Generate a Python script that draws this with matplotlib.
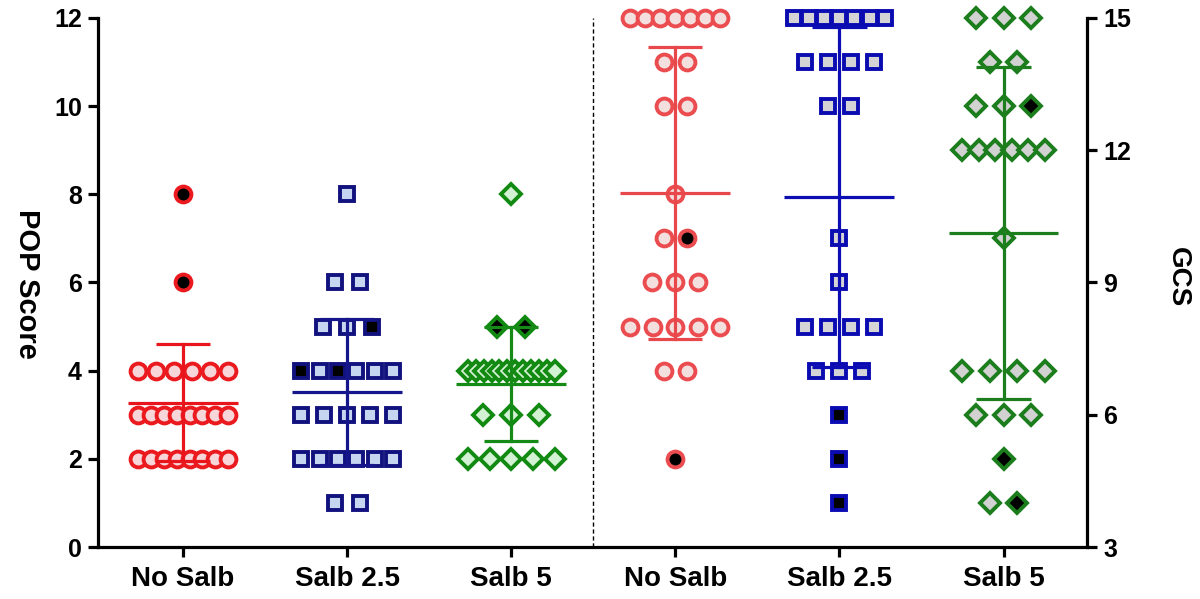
import numpy as np
import matplotlib
matplotlib.use("Agg")
import matplotlib.pyplot as plt

plt.rcParams['font.family'] = ['Liberation Sans', 'DejaVu Sans']
plt.rcParams['font.weight'] = 'bold'

# ---- data -------------------------------------------------------------
groups = ["No Salb", "Salb 2.5", "Salb 5"]

# POP score (left axis); 1 in the *_dark lists marks a black-filled point
pop_no_salb = [8, 6, 4, 4, 4, 4, 4, 4, 3, 3, 3, 3, 3, 3, 3, 3,
               2, 2, 2, 2, 2, 2, 2, 2]
pop_no_salb_dark = [1, 1] + [0] * 22
pop_salb25 = [8, 6, 6, 5, 5, 5, 4, 4, 4, 4, 4, 4, 3, 3, 3, 3, 3,
              2, 2, 2, 2, 2, 2, 1, 1]
pop_salb25_dark = [0, 0, 0, 0, 0, 1, 1, 0, 1, 0, 0, 0] + [0] * 13
pop_salb5 = [8, 5, 5] + [4] * 12 + [3, 3, 3, 2, 2, 2, 2, 2]
pop_salb5_dark = [0, 1, 1] + [0] * 20

pop_mean = [3.27, 3.52, 3.70]
pop_sd = [1.33, 1.65, 1.29]

# GCS (right axis)
gcs_no_salb = [15] * 7 + [14, 14, 13, 13, 11, 10, 10, 9, 9, 9,
                          8, 8, 8, 8, 8, 7, 7, 5]
gcs_no_salb_dark = [0] * 13 + [1] + [0] * 10 + [1]
gcs_salb25 = [15] * 7 + [14] * 4 + [13, 13, 10, 9, 8, 8, 8, 8,
                                    7, 7, 7, 6, 5, 4]
gcs_salb25_dark = [0] * 22 + [1, 1, 1]
gcs_salb5 = [15, 15, 15, 14, 14, 13, 13, 13] + [12] * 6 + \
            [10, 7, 7, 7, 7, 6, 6, 6, 5, 4, 4]
gcs_salb5_dark = [0, 0, 0, 0, 0, 0, 0, 1] + [0] * 6 + \
                 [0, 0, 0, 0, 0, 0, 0, 0, 1, 0, 1]

gcs_mean = [11.03, 10.94, 10.12]
gcs_sd = [3.32, 3.86, 3.76]

# ---- styles -----------------------------------------------------------
left_styles = [
    dict(marker='o', ms=11.4, edge='#ea1a1f', face='#f7d6d9', line='#e8161c', step=0.14, span=0.55),
    dict(marker='s', ms=10.2, edge='#12127f', face='#c6d6f0', line='#16168c', step=0.15, span=0.56),
    dict(marker='D', ms=9.8, edge='#128a12', face='#d3f2d3', line='#168a16', step=0.17, span=0.53),
]
right_styles = [
    dict(marker='o', ms=11.4, edge='#eb4c4f', face='#f4dfdf', line='#e8474b', step=0.14, span=0.55),
    dict(marker='s', ms=10.2, edge='#0b0bb2', face='#d4d4d6', line='#0d0db4', step=0.14, span=0.55),
    dict(marker='D', ms=9.8, edge='#1b7d1b', face='#d2d2d2', line='#1c7e1c', step=0.17, span=0.50),
]


def swarm(ax, xc, values, dark, st):
    values = np.asarray(values)
    dark = np.asarray(dark)
    for v in np.unique(values):
        idx = np.where(values == v)[0]
        n = len(idx)
        step = st['step'] if n < 2 else min(st['step'], st['span'] / (n - 1))
        offs = (np.arange(n) - (n - 1) / 2) * step
        for o, i in zip(offs, idx):
            ax.plot(xc + o, v, linestyle='none', marker=st['marker'],
                    ms=st['ms'], mew=2.8, mec=st['edge'],
                    mfc='black' if dark[i] else st['face'], zorder=3)


def summary(ax, xc, m, s, st):
    ax.plot([xc - 0.335, xc + 0.335], [m, m], color=st['line'], lw=2.3,
            zorder=4, solid_capstyle='butt')
    ax.plot([xc, xc], [m - s, m + s], color=st['line'], lw=2.3, zorder=4)
    for y in (m - s, m + s):
        ax.plot([xc - 0.165, xc + 0.165], [y, y], color=st['line'], lw=2.3,
                zorder=4, solid_capstyle='butt')


fig = plt.figure(figsize=(12, 5.99), dpi=100)
ax = fig.add_axes([0.0815, 0.0868, 0.8245, 0.8832])
ax2 = ax.twinx()

pop_sets = [(pop_no_salb, pop_no_salb_dark), (pop_salb25, pop_salb25_dark),
            (pop_salb5, pop_salb5_dark)]
gcs_sets = [(gcs_no_salb, gcs_no_salb_dark), (gcs_salb25, gcs_salb25_dark),
            (gcs_salb5, gcs_salb5_dark)]

for k, (vals, dk) in enumerate(pop_sets):
    swarm(ax, k, vals, dk, left_styles[k])
    summary(ax, k, pop_mean[k], pop_sd[k], left_styles[k])

for k, (vals, dk) in enumerate(gcs_sets):
    swarm(ax2, k + 3, vals, dk, right_styles[k])
    summary(ax2, k + 3, gcs_mean[k], gcs_sd[k], right_styles[k])

ax.axvline(2.5, color='black', lw=1.0, ls=(0, (3, 2)), zorder=1)

ax.set_xlim(-0.52, 5.51)
ax.set_ylim(0, 12)
ax2.set_ylim(3, 15)
ax.set_yticks(np.arange(0, 13, 2))
ax2.set_yticks(np.arange(3, 16, 3))
ax.set_xticks(range(6))
ax.set_xticklabels(groups + groups)

for a in (ax, ax2):
    for sp in a.spines.values():
        sp.set_linewidth(2.3)
    a.spines['top'].set_visible(False)
    a.tick_params(width=2.3, length=7.5, labelsize=18, pad=4)
ax.tick_params(axis='x', labelsize=20, pad=6)
ax.spines['right'].set_visible(False)
ax2.spines['left'].set_visible(False)
ax2.spines['bottom'].set_visible(False)
for lab in ax.get_xticklabels() + ax.get_yticklabels() + ax2.get_yticklabels():
    lab.set_fontweight('bold')

for a in (ax, ax2):
    for line in a.lines:
        line.set_clip_on(False)

ax.set_ylabel("POP Score", fontsize=21, fontweight='bold', rotation=270,
              va='center')
ax.yaxis.set_label_coords(-0.072, 0.497)
ax2.set_ylabel("GCS", fontsize=20, fontweight='bold', rotation=270,
               va='center')
ax2.yaxis.set_label_coords(1.092, 0.51)

fig.savefig("out.png", dpi=100)
